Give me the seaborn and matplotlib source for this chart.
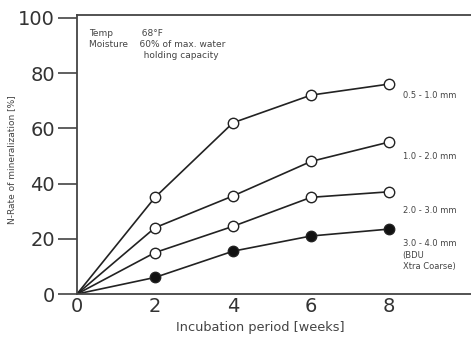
import pandas as pd
import matplotlib.pyplot as plt
import seaborn as sns

sns.set_style("white")
plt.rcParams['font.family'] = ['DejaVu Sans']

# data
weeks = [0, 2, 4, 6, 8]
fine = [0, 35, 62, 72, 76]          # 0.5 - 1.0 mm
medium = [0, 24, 35.5, 48, 55]      # 1.0 - 2.0 mm
coarse = [0, 15, 24.5, 35, 37]      # 2.0 - 3.0 mm
xcoarse = [0, 6, 15.5, 21, 23.5]    # 3.0 - 4.0 mm (BDU Xtra Coarse)
series_labels = ["0.5 - 1.0 mm", "1.0 - 2.0 mm", "2.0 - 3.0 mm",
                 "3.0 - 4.0 mm\n(BDU\nXtra Coarse)"]
label_y = [73.5, 51.5, 32, 20]

fig = plt.figure(figsize=(4.71, 3.38), dpi=100)
ax = fig.add_axes([77 / 471, 44 / 338, 1 - 77 / 471, 279 / 338])

for vals, filled in [(fine, False), (medium, False), (coarse, False), (xcoarse, True)]:
    sns.lineplot(x=weeks, y=vals, ax=ax, color='#222222', linewidth=1.2,
                 marker='o', markevery=[1, 2, 3, 4], markersize=7.5,
                 markerfacecolor='#111111' if filled else 'white',
                 markeredgecolor='#222222', markeredgewidth=1.0)

for lab, ly in zip(series_labels, label_y):
    ax.text(8.35, ly, lab, fontsize=6, va='top', ha='left', color='#444444',
            linespacing=1.4)

ax.text(0.3, 96, "Temp          68°F\nMoisture    60% of max. water\n                   holding capacity",
        fontsize=6.5, va='top', ha='left', color='#444444', linespacing=1.3)

ax.set_xlim(0, 10.1)
ax.set_ylim(0, 101)
ax.set_xticks([0, 2, 4, 6, 8])
ax.set_yticks([0, 20, 40, 60, 80, 100])
ax.tick_params(axis='y', direction='out', length=14, width=1.2, labelsize=14,
               pad=2, left=True, labelcolor='#333333', color='#444444')
ax.tick_params(axis='x', length=0, labelsize=14, pad=2, labelcolor='#333333')
ax.set_xlabel("Incubation period [weeks]", fontsize=9.3, labelpad=0, color='#444444')
ax.xaxis.set_label_coords(0.465, -0.095)
ax.set_ylabel("N-Rate of mineralization [%]", fontsize=6.5, labelpad=2, color='#444444')
ax.yaxis.set_label_coords(-0.155, 0.48)
for s in ['left', 'bottom', 'top']:
    ax.spines[s].set_color('#444444')
    ax.spines[s].set_linewidth(1.3)
ax.spines['right'].set_visible(False)

plt.savefig('out.png', dpi=100)
